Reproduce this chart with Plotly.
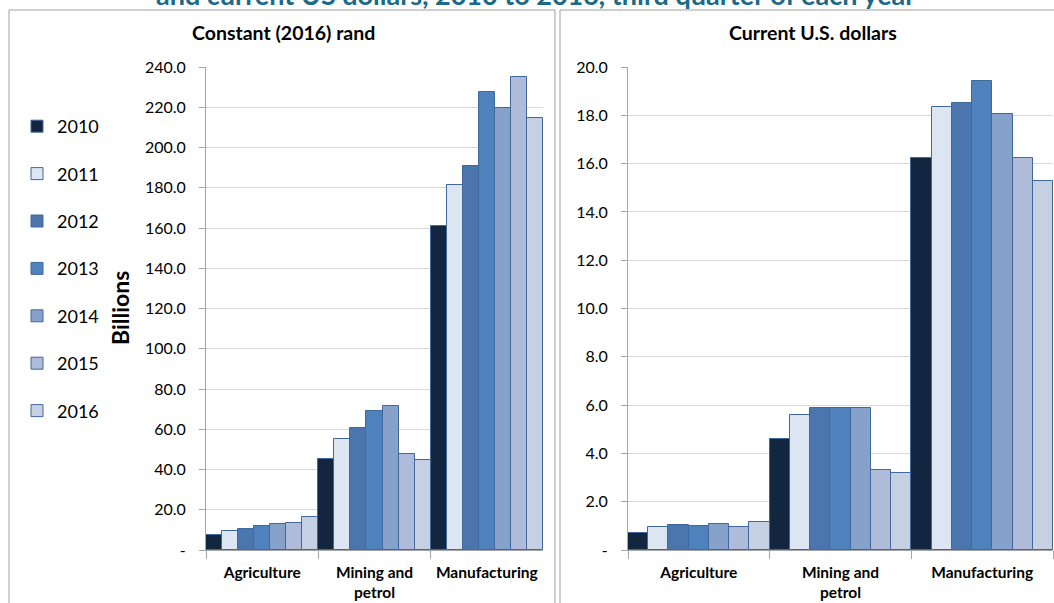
import plotly.graph_objects as go

W, H = 1054, 603

sectors = ["Agriculture", "Mining and<br>petrol", "Manufacturing"]
years = ["2010", "2011", "2012", "2013", "2014", "2015", "2016"]

# Billions of constant (2016) rand, one list per year: Agriculture, Mining and petrol, Manufacturing
rand_2010 = [7.5, 45.2, 161.0]
rand_2011 = [9.4, 55.0, 181.4]
rand_2012 = [10.6, 60.5, 190.8]
rand_2013 = [11.9, 69.2, 227.7]
rand_2014 = [13.1, 71.6, 219.6]
rand_2015 = [13.6, 47.5, 234.9]
rand_2016 = [16.2, 44.7, 214.5]

# Billions of current US dollars
usd_2010 = [0.72, 4.58, 16.22]
usd_2011 = [0.95, 5.58, 18.36]
usd_2012 = [1.02, 5.87, 18.51]
usd_2013 = [1.00, 5.89, 19.42]
usd_2014 = [1.06, 5.88, 18.07]
usd_2015 = [0.94, 3.30, 16.24]
usd_2016 = [1.14, 3.18, 15.29]

rand_series = [rand_2010, rand_2011, rand_2012, rand_2013, rand_2014, rand_2015, rand_2016]
usd_series = [usd_2010, usd_2011, usd_2012, usd_2013, usd_2014, usd_2015, usd_2016]

rand_ticks = [0, 20, 40, 60, 80, 100, 120, 140, 160, 180, 200, 220, 240]
usd_ticks = [0, 2, 4, 6, 8, 10, 12, 14, 16, 18, 20]

colors = ["#12263f", "#dce6f2", "#4a76ad", "#4f81bd", "#86a2cb", "#aebcd9", "#c5d0e2"]
outline = "#41689c"

FONT = "Lato"


def px_x(p):
    return p / W


def px_y(p):
    return 1 - p / H


def tick_text(vals):
    return ["-" if v == 0 else f"{v:.1f}" for v in vals]


fig = go.Figure()

for i, year in enumerate(years):
    fig.add_trace(go.Bar(
        x=sectors, y=rand_series[i], name=year,
        marker=dict(color=colors[i], line=dict(color=outline, width=1)),
        legendgroup=year, showlegend=True,
        xaxis="x", yaxis="y",
    ))
for i, year in enumerate(years):
    fig.add_trace(go.Bar(
        x=sectors, y=usd_series[i], name=year,
        marker=dict(color=colors[i], line=dict(color=outline, width=1)),
        legendgroup=year, showlegend=False,
        xaxis="x2", yaxis="y2",
    ))

y_dom = [px_y(550), px_y(67)]

common_x = dict(
    type="category", showline=True, linecolor="#a6a6a6", linewidth=1,
    ticks="outside", tickson="boundaries", ticklen=8, tickcolor="#a6a6a6",
    showgrid=False, automargin=False, ticklabelstandoff=8,
    tickfont=dict(family=FONT, size=15.5, color="#000000", weight="bold"),
    fixedrange=True,
)
common_y = dict(
    showline=True, linecolor="#a6a6a6", linewidth=1,
    ticks="outside", ticklen=6, tickcolor="#a6a6a6",
    showgrid=True, gridcolor="#d9d9d9", gridwidth=1, zeroline=False,
    tickfont=dict(family=FONT, size=16, color="#000000"),
    ticklabelstandoff=10, domain=y_dom, fixedrange=True, automargin=False,
)

fig.update_layout(
    width=W, height=H,
    margin=dict(l=0, r=0, t=0, b=0, autoexpand=False),
    paper_bgcolor="white", plot_bgcolor="white",
    barmode="group", bargap=0.0, bargroupgap=0.0,
    xaxis=dict(common_x, domain=[px_x(206), px_x(543)], anchor="y"),
    yaxis=dict(common_y, range=[0, 240], tickvals=rand_ticks,
               ticktext=tick_text(rand_ticks), anchor="x"),
    xaxis2=dict(common_x, domain=[px_x(628), px_x(1053)], anchor="y2"),
    yaxis2=dict(common_y, range=[0, 20], tickvals=usd_ticks,
                ticktext=tick_text(usd_ticks), anchor="x2"),
    legend=dict(
        x=px_x(17), y=px_y(108), xanchor="left", yanchor="top",
        font=dict(family=FONT, size=18, color="#000000"),
        tracegroupgap=21, bgcolor="rgba(0,0,0,0)", itemclick=False,
        itemdoubleclick=False,
    ),
    showlegend=True,
)

# Panel frames
fig.add_shape(type="rect", xref="paper", yref="paper",
              x0=px_x(9), x1=px_x(555), y0=-0.02, y1=px_y(10),
              line=dict(color="#a0a0a0", width=1), layer="below")
fig.add_shape(type="rect", xref="paper", yref="paper",
              x0=px_x(560), x1=1.02, y0=-0.02, y1=px_y(10),
              line=dict(color="#a0a0a0", width=1), layer="below")

annotations = [
    dict(text="and current US dollars, 2010 to 2016, third quarter of each year",
         x=px_x(535), y=px_y(-6), xanchor="center", yanchor="middle",
         font=dict(family=FONT, size=27, color="#1b6a8a", weight="bold")),
    dict(text="Constant (2016) rand", x=px_x(283), y=px_y(33),
         xanchor="center", yanchor="middle",
         font=dict(family=FONT, size=19.5, color="#000000", weight="bold")),
    dict(text="Current U.S. dollars", x=px_x(813), y=px_y(33),
         xanchor="center", yanchor="middle",
         font=dict(family=FONT, size=19.5, color="#000000", weight="bold")),
    dict(text="Billions", x=px_x(120), y=px_y(308), textangle=-90,
         xanchor="center", yanchor="middle",
         font=dict(family=FONT, size=23, color="#000000", weight="bold")),
]
for a in annotations:
    fig.add_annotation(xref="paper", yref="paper", showarrow=False, **a)

fig.write_html("out.html")
